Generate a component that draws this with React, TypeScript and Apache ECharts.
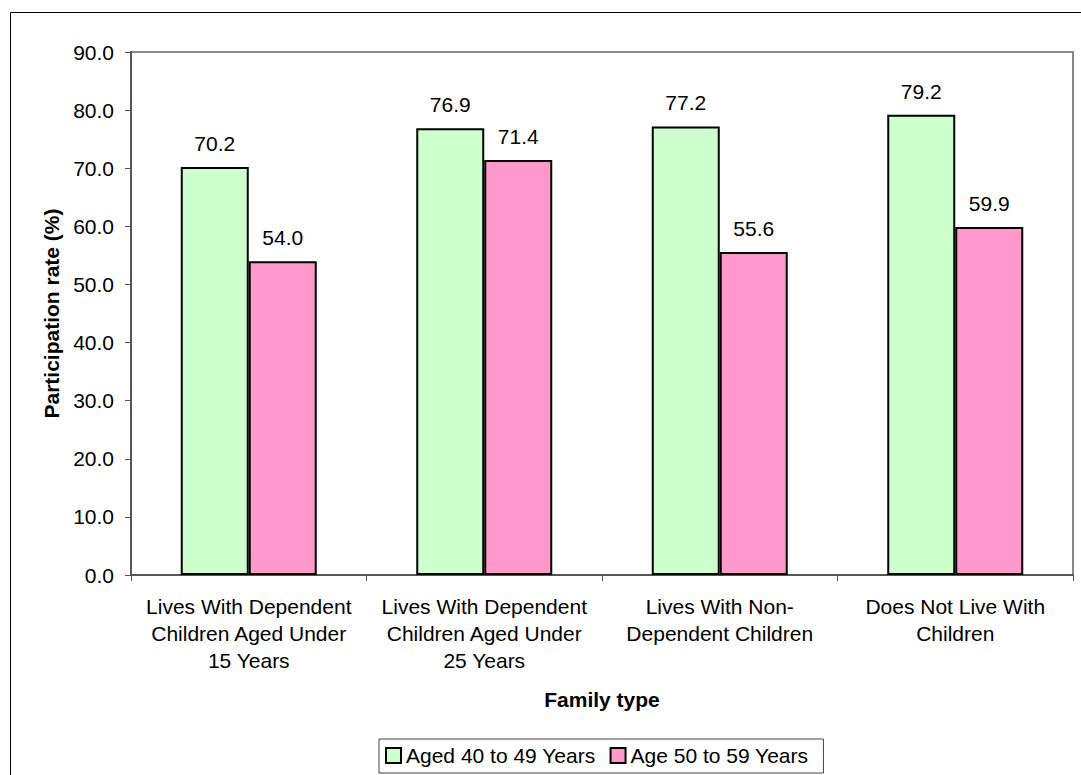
import React, { useEffect, useRef } from "react";
import * as echarts from "echarts";

// Labour force participation by family type, two age groups
const categories: string[] = [
  "Lives With Dependent\nChildren Aged Under\n15 Years",
  "Lives With Dependent\nChildren Aged Under\n25 Years",
  "Lives With Non-\nDependent Children",
  "Does Not Live With\nChildren",
];
const seriesNames: string[] = ["Aged 40 to 49 Years", "Age 50 to 59 Years"];
const aged40to49: number[] = [70.2, 76.9, 77.2, 79.2];
const aged50to59: number[] = [54.0, 71.4, 55.6, 59.9];
const yTicks = { min: 0, max: 90, interval: 10 };

const FONT = "'Liberation Sans', Arial, Helvetica, sans-serif";

export default function App() {
  const ref = useRef<HTMLDivElement>(null);

  useEffect(() => {
    document.body.style.margin = "0";
    if (!ref.current) return;
    const chart = echarts.init(ref.current, undefined, { renderer: "svg" });

    const barLabel = {
      show: true,
      position: "top" as const,
      distance: 13,
      fontSize: 21,
      fontFamily: FONT,
      color: "#000",
      formatter: (p: any) => Number(p.value).toFixed(1),
    };

    chart.setOption({
      animation: false,
      backgroundColor: "#fff",
      textStyle: { fontFamily: FONT },
      grid: {
        left: 131,
        top: 52,
        right: 8,
        bottom: 200,
        show: true,
        borderColor: "#888",
        borderWidth: 2,
        backgroundColor: "transparent",
      },
      legend: {
        data: seriesNames,
        left: 379,
        top: 739,
        orient: "horizontal",
        padding: [6, 15, 7, 6],
        itemWidth: 15,
        itemHeight: 15,
        itemGap: 14,
        borderColor: "#444",
        borderWidth: 1,
        icon: "rect",
        textStyle: { fontSize: 21, fontFamily: FONT, color: "#000", lineHeight: 21 },
      },
      xAxis: {
        type: "category",
        data: categories,
        boundaryGap: true,
        name: "Family type",
        nameLocation: "middle",
        nameGap: 124,
        nameTextStyle: {
          fontSize: 21,
          fontWeight: "bold",
          fontFamily: FONT,
          color: "#000",
          verticalAlign: "middle",
        },
        axisLine: { show: true, lineStyle: { color: "#555", width: 2 } },
        axisTick: { show: true, length: 6, alignWithLabel: false, lineStyle: { color: "#555", width: 1 } },
        axisLabel: {
          interval: 0,
          margin: 18,
          fontSize: 21,
          lineHeight: 27,
          fontFamily: FONT,
          color: "#000",
        },
        splitLine: { show: false },
      },
      yAxis: {
        type: "value",
        min: yTicks.min,
        max: yTicks.max,
        interval: yTicks.interval,
        name: "Participation rate (%)",
        nameLocation: "middle",
        nameGap: 79,
        nameTextStyle: {
          fontSize: 21,
          fontWeight: "bold",
          fontFamily: FONT,
          color: "#000",
          verticalAlign: "middle",
        },
        axisLine: { show: true, lineStyle: { color: "#555", width: 2 } },
        axisTick: { show: true, length: 6, lineStyle: { color: "#555", width: 1 } },
        axisLabel: {
          margin: 17,
          fontSize: 21,
          fontFamily: FONT,
          color: "#000",
          formatter: (v: number) => v.toFixed(1),
        },
        splitLine: { show: false },
      },
      series: [
        {
          name: seriesNames[0],
          type: "bar",
          data: aged40to49,
          barWidth: 68,
          barGap: "0%",
          itemStyle: { color: "#CCFFCC", borderColor: "#000", borderWidth: 2 },
          label: barLabel,
        },
        {
          name: seriesNames[1],
          type: "bar",
          data: aged50to59,
          barWidth: 68,
          barGap: "0%",
          itemStyle: { color: "#FF99CC", borderColor: "#000", borderWidth: 2 },
          label: barLabel,
        },
      ],
      graphic: [
        {
          type: "rect",
          silent: true,
          shape: { x: 10.5, y: 12.5, width: 1100, height: 800 },
          style: { fill: "none", stroke: "#000", lineWidth: 1 },
          z: -10,
        },
      ],
    });

    return () => chart.dispose();
  }, []);

  return <div ref={ref} style={{ width: 1081, height: 775 }} />;
}
